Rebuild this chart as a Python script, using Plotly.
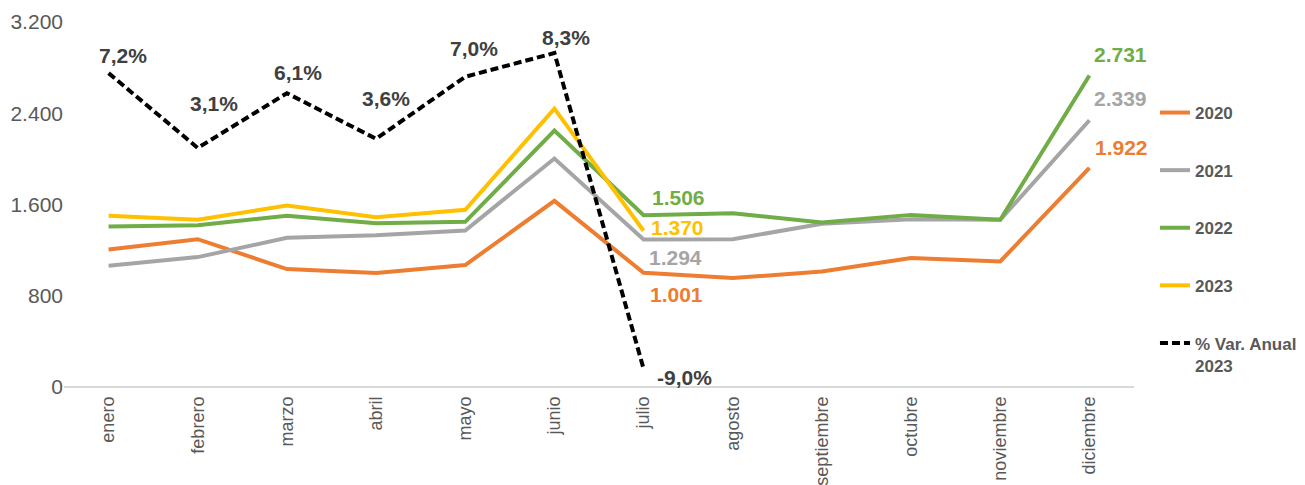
import plotly.graph_objects as go

months = ["enero", "febrero", "marzo", "abril", "mayo", "junio", "julio",
          "agosto", "septiembre", "octubre", "noviembre", "diciembre"]
v2020 = [1206, 1296, 1034, 999, 1069, 1632, 1001, 955, 1013, 1130, 1101, 1922]
v2021 = [1063, 1139, 1308, 1331, 1372, 2003, 1294, 1296, 1431, 1471, 1466, 2339]
v2022 = [1407, 1419, 1501, 1436, 1448, 2248, 1506, 1524, 1442, 1509, 1466, 2731]
v2023 = [1501, 1466, 1591, 1489, 1553, 2441, 1370]
var2023 = [7.2, 3.1, 6.1, 3.6, 7.0, 8.3, -9.0]
y_ticks = [0, 800, 1600, 2400, 3200]
y_ticktext = ["0", "800", "1.600", "2.400", "3.200"]

C2020, C2021, C2022, C2023 = "#ED7D31", "#A5A5A5", "#70AD47", "#FFC000"
FONT = "Liberation Sans, Arial, sans-serif"

fig = go.Figure()
series = [("2020", v2020, C2020), ("2021", v2021, C2021),
          ("2022", v2022, C2022), ("2023", v2023, C2023)]
for name, vals, col in series:
    fig.add_trace(go.Scatter(x=months[:len(vals)], y=vals, name=name, mode="lines",
                             line=dict(color=col, width=4), legendgroup=name))
fig.add_trace(go.Scatter(x=months[:len(var2023)], y=var2023, name="% Var. Anual<br>2023",
                         mode="lines", yaxis="y2", legendgroup="var",
                         line=dict(color="#000000", width=4, dash="8px,4px")))

def fmt_int(v):
    return f"{v:,}".replace(",", ".")

def fmt_pct(v):
    return f"{v:.1f}%".replace(".", ",")

# percentage labels (offsets in px)
var_shift = [(14, 18), (16, 44), (11, 21), (10, 40), (9, 28), (12, 16), (41, -9)]
for i, v in enumerate(var2023):
    dx, dy = var_shift[i]
    fig.add_annotation(x=months[i], y=v, yref="y2", text=fmt_pct(v), showarrow=False,
                       xshift=dx, yshift=dy,
                       font=dict(family=FONT, size=21, color="#404040", weight="bold"))

# series labels at julio and diciembre
lab_specs = [
    (v2022, 6, C2022, 35, 18), (v2023, 6, C2023, 34, 3),
    (v2021, 6, C2021, 32, -18), (v2020, 6, C2020, 33, -22),
    (v2022, 11, C2022, 31, 21), (v2021, 11, C2021, 31, 22), (v2020, 11, C2020, 32, 20),
]
for vals, idx, col, dx, dy in lab_specs:
    fig.add_annotation(x=months[idx], y=vals[idx], text=fmt_int(vals[idx]), showarrow=False,
                       xshift=dx, yshift=dy,
                       font=dict(family=FONT, size=21, color=col, weight="bold"))

fig.update_layout(
    width=1330, height=485,
    margin=dict(l=56, r=204, t=14, b=106),
    paper_bgcolor="white", plot_bgcolor="white",
    font=dict(family=FONT, color="#595959"),
    showlegend=True,
    legend=dict(x=1.0196, xanchor="left", y=0.80, yanchor="top",
                traceorder="grouped", tracegroupgap=32.5, valign="top",
                font=dict(family=FONT, size=17, color="#595959", weight="bold"),
                bgcolor="rgba(0,0,0,0)"),
    xaxis=dict(type="category", categoryorder="array", categoryarray=months,
               range=[-0.5, 11.5], tickangle=-90, showgrid=False, automargin=False,
               showline=False, zeroline=False, ticks="", ticklabelstandoff=5,
               tickfont=dict(family=FONT, size=18, color="#595959")),
    yaxis=dict(range=[0, 3200], tickvals=y_ticks, ticktext=y_ticktext, automargin=False,
               showgrid=False, zeroline=True, zerolinecolor="#D9D9D9", zerolinewidth=2,
               showline=False, ticks="",
               tickfont=dict(family=FONT, size=21, color="#595959")),
    yaxis2=dict(range=[-10, 10], overlaying="y", side="right", visible=False,
                showgrid=False, zeroline=False),
)

fig.write_html("out.html")
